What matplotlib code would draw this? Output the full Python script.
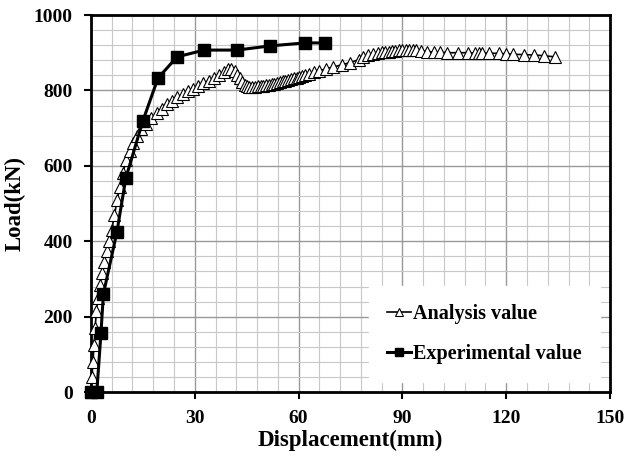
import matplotlib.pyplot as plt
import numpy as np

plt.rc('font', family='Liberation Serif', weight='bold', size=12)

# experimental (black squares)
exp_x = [0.0, 1.7, 2.9, 3.6, 7.5, 10.1, 15.0, 19.4, 24.9, 32.7, 42.2, 51.7, 61.8, 67.6]
exp_y = [0, 0, 156, 260, 424, 568, 719, 833, 889, 907, 907, 918, 926, 926]

# analysis (white triangles)
ana_x = [0.0, 0.3, 0.6, 0.9, 1.2, 1.6, 2.0, 2.6, 3.2, 3.9, 4.6, 5.3, 6.0, 6.8, 7.6,
         8.4, 9.2, 10.2, 11.2, 12.2, 13.4, 14.6, 16.0, 17.5, 19.0, 20.5, 22.0, 23.5,
         25.0, 26.5, 28.0, 29.5, 31.0, 32.5, 34.0, 35.5, 37.0, 38.5, 39.5, 40.5,
         41.5, 42.3, 43.0, 43.7, 44.4, 45.0, 45.8, 46.6, 47.4, 48.2, 49.0, 49.8,
         50.6, 51.4, 52.2, 53.0, 53.8, 54.6, 55.4, 56.2, 57.0, 57.8, 58.6, 59.4,
         60.2, 61.0, 62.0, 63.0, 64.5, 66.0, 68.0, 70.0, 72.5, 75.0, 77.5, 78.6,
         80.0, 81.5, 83.0, 84.0, 85.0, 86.0, 87.0, 88.0, 89.0, 90.0, 91.0, 92.0,
         93.0, 94.0, 95.5, 97.0, 99.0, 101.0, 103.0, 106.0, 109.0, 111.0, 112.0,
         113.0, 115.0, 118.0, 120.0, 122.0, 125.0, 128.0, 131.0, 134.0]
ana_y = [0, 40, 80, 125, 170, 215, 250, 285, 315, 345, 375, 400, 430, 470, 510,
         545, 580, 615, 640, 660, 680, 697, 712, 727, 740, 752, 763, 773,
         782, 790, 798, 805, 812, 819, 826, 834, 842, 850, 856, 858,
         852, 842, 832, 822, 815, 812, 810, 810, 810, 811, 812, 813,
         814, 815, 816, 818, 820, 822, 824, 826, 828, 830, 832, 834,
         836, 838, 841, 844, 848, 852, 857, 862, 868, 874, 882, 889,
         893, 896, 899, 901, 902, 903, 904, 905, 906, 907, 907, 907,
         907, 906, 905, 903, 902, 901, 900, 900, 900, 899, 899,
         899, 899, 898, 897, 896, 895, 894, 892, 889]

fig = plt.figure(figsize=(6.27, 4.69), dpi=100)
ax = fig.add_axes([0.145, 0.164, 0.828, 0.804])

ax.plot(ana_x, ana_y, color='black', lw=1.2, marker='^', ms=8.5,
        mfc='white', mec='black', mew=0.8, label='Analysis value', zorder=3,
        clip_on=False)
ax.plot(exp_x, exp_y, color='black', lw=2.2, marker='s', ms=9,
        mfc='black', mec='black', label='Experimental value', zorder=4,
        clip_on=False)

ax.set_xlim(0, 150)
ax.set_ylim(0, 1000)
ax.set_xticks(np.arange(0, 151, 30))
ax.set_yticks(np.arange(0, 1001, 200))
ax.set_xticks(np.arange(0, 151, 6), minor=True)
ax.set_yticks(np.arange(0, 1001, 40), minor=True)
ax.grid(which='major', color='#999999', lw=1.0)
ax.grid(which='minor', color='#c8c8c8', lw=0.8)
ax.tick_params(which='major', direction='out', length=5, width=1.5, labelsize=14, pad=8)
ax.tick_params(which='minor', length=0)
for s in ax.spines.values():
    s.set_linewidth(2)

ax.set_xlabel('Displacement(mm)', fontsize=16.5, fontweight='bold', labelpad=2)
ax.set_ylabel('Load(kN)', fontsize=16.5, fontweight='bold', labelpad=6)

leg = ax.legend(loc='lower right', bbox_to_anchor=(1.0, 0.0), frameon=True,
                fancybox=False, edgecolor='white', framealpha=1,
                fontsize=14.5, handlelength=1.2, handletextpad=0.1,
                markerscale=0.6, labelspacing=1.0, borderpad=0.9)
leg.set_zorder(5)

plt.savefig('out.png', dpi=100)
